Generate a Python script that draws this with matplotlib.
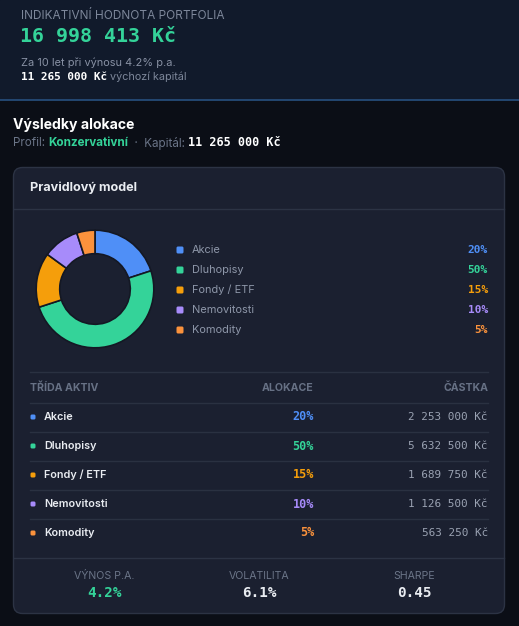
import matplotlib
matplotlib.use("Agg")
import matplotlib.pyplot as plt
from matplotlib.patches import FancyBboxPatch, Rectangle

# data
categories = ["Akcie", "Dluhopisy", "Fondy / ETF", "Nemovitosti", "Komodity"]
shares = [20, 50, 15, 10, 5]
amounts = [2253000, 5632500, 1689750, 1126500, 563250]
colors = ["#4f8ff7", "#34d399", "#f59e0b", "#a78bfa", "#fb923c"]
portfolio_value = 16998413
capital = 11265000
years = 10
ret_pa = 4.2
stat_labels = ["VÝNOS P.A.", "VOLATILITA", "SHARPE"]
stat_values = ["4.2%", "6.1%", "0.45"]

W, H = 519, 626
SANS = ["Inter", "DejaVu Sans"]
MONO = ["DejaVu Sans Mono"]

BG_TOP = "#111a2b"
BG = "#0b0e16"
CARD = "#1b2030"
BORDER = "#2c3344"
GRID = "#2a3141"
GRAY = "#7d879a"
WHITE = "#e9ecf1"


def kc(v):
    return f"{v:,}".replace(",", " ") + " Kč"


fig = plt.figure(figsize=(W / 100, H / 100), dpi=100)
fig.patch.set_facecolor(BG)
ax = fig.add_axes([0, 0, 1, 1])
ax.set_xlim(0, W)
ax.set_ylim(H, 0)
ax.axis("off")
renderer = fig.canvas.get_renderer()


def txt(x, y, s, **kw):
    kw.setdefault("va", "center")
    kw.setdefault("family", SANS)
    return ax.text(x, y, s, **kw)


def run(x, y, pieces):
    # draw a line of differently styled pieces one after another
    for s, kw in pieces:
        t = txt(x, y, s, **kw)
        bb = t.get_window_extent(renderer)
        x += bb.width


# header band
ax.add_patch(Rectangle((0, 0), W, 99, color=BG_TOP, zorder=0))
ax.plot([0, W], [99.5, 99.5], color="#27507f", lw=1.2)
txt(21, 16, "INDIKATIVNÍ HODNOTA PORTFOLIA", size=8.5, color=GRAY)
txt(20, 36, kc(portfolio_value), size=14.3, color="#34d399", family=MONO, weight="bold")
txt(21, 63, f"Za {years} let při výnosu {ret_pa}% p.a.", size=7.9, color="#8891a4")
run(21, 77, [(kc(capital), dict(size=7.9, color="white", family=MONO, weight="bold")),
             (" výchozí kapitál", dict(size=7.8, color=GRAY))])

# section title
txt(13, 125, "Výsledky alokace", size=10.1, color="white", weight="bold")
run(13, 143, [("Profil: ", dict(size=8.4, color="#6b7588")),
              ("Konzervativní", dict(size=8.4, color="#34d399", weight="bold")),
              ("  ·  Kapitál: ", dict(size=8.4, color="#6b7588")),
              (kc(capital), dict(size=8.5, color="white", family=MONO, weight="bold"))])

# card
ax.add_patch(FancyBboxPatch((13.5, 167.5), 491, 446, boxstyle="round,pad=0,rounding_size=9",
                            fc=CARD, ec=BORDER, lw=1))
txt(30, 188, "Pravidlový model", size=9.1, color=WHITE, weight="bold")
ax.plot([14, 504], [208.5, 208.5], color=BORDER, lw=1)

# donut
cx, cy, r = 95, 289, 60
dax = fig.add_axes([(cx - r) / W, (H - cy - r) / H, 2 * r / W, 2 * r / H])
dax.pie(shares, colors=colors, startangle=90, counterclock=False, radius=1,
        wedgeprops=dict(width=0.4, edgecolor="#141824", linewidth=1.2))
dax.set_xlim(-1.02, 1.02)
dax.set_ylim(-1.02, 1.02)
dax.set_aspect("equal")
dax.axis("off")

# legend
for i, (c, s, col) in enumerate(zip(categories, shares, colors)):
    y = 250 + 20 * i
    ax.add_patch(FancyBboxPatch((176.5, y - 3.5), 7, 7, boxstyle="round,pad=0,rounding_size=1.5",
                                fc=col, ec="none"))
    txt(192, y, c, size=7.9, color="#8e97a9")
    txt(488, y, f"{s}%", size=8, color=col, family=MONO, weight="bold", ha="right")

# table
ax.plot([30, 488], [371.5, 371.5], color=GRID, lw=1)
txt(30, 388, "TŘÍDA AKTIV", size=7.6, color="#677185", weight="bold")
txt(314, 388, "ALOKACE", size=7.6, color="#677185", weight="bold", ha="right")
txt(488, 388, "ČÁSTKA", size=7.6, color="#677185", weight="bold", ha="right")
ax.plot([30, 488], [402.5, 402.5], color=GRID, lw=1)
for i, (c, s, a, col) in enumerate(zip(categories, shares, amounts, colors)):
    y = 417 + 29 * i
    ax.add_patch(FancyBboxPatch((30.5, y - 2.5), 5, 5, boxstyle="round,pad=0,rounding_size=1.5",
                                fc=col, ec="none"))
    txt(44, y, c, size=7.8, color=WHITE, weight="semibold")
    txt(314, y, f"{s}%", size=8.5, color=col, family=MONO, weight="bold", ha="right")
    txt(488, y, kc(a), size=7.9, color="#9aa2b2", family=MONO, ha="right")
    if i < len(categories) - 1:
        ax.plot([30, 488], [y + 14.5, y + 14.5], color=GRID, lw=1)

# stats
ax.plot([14, 504], [557.5, 557.5], color=BORDER, lw=1)
for i, (lab, val) in enumerate(zip(stat_labels, stat_values)):
    x = 104 + 155 * i
    txt(x, 576, lab, size=7.6, color="#6b7588", ha="center")
    txt(x, 593, val, size=10.3, color="#34d399" if i == 0 else WHITE,
        family=MONO, weight="bold", ha="center")

fig.savefig("out.png", dpi=100, facecolor=BG)
